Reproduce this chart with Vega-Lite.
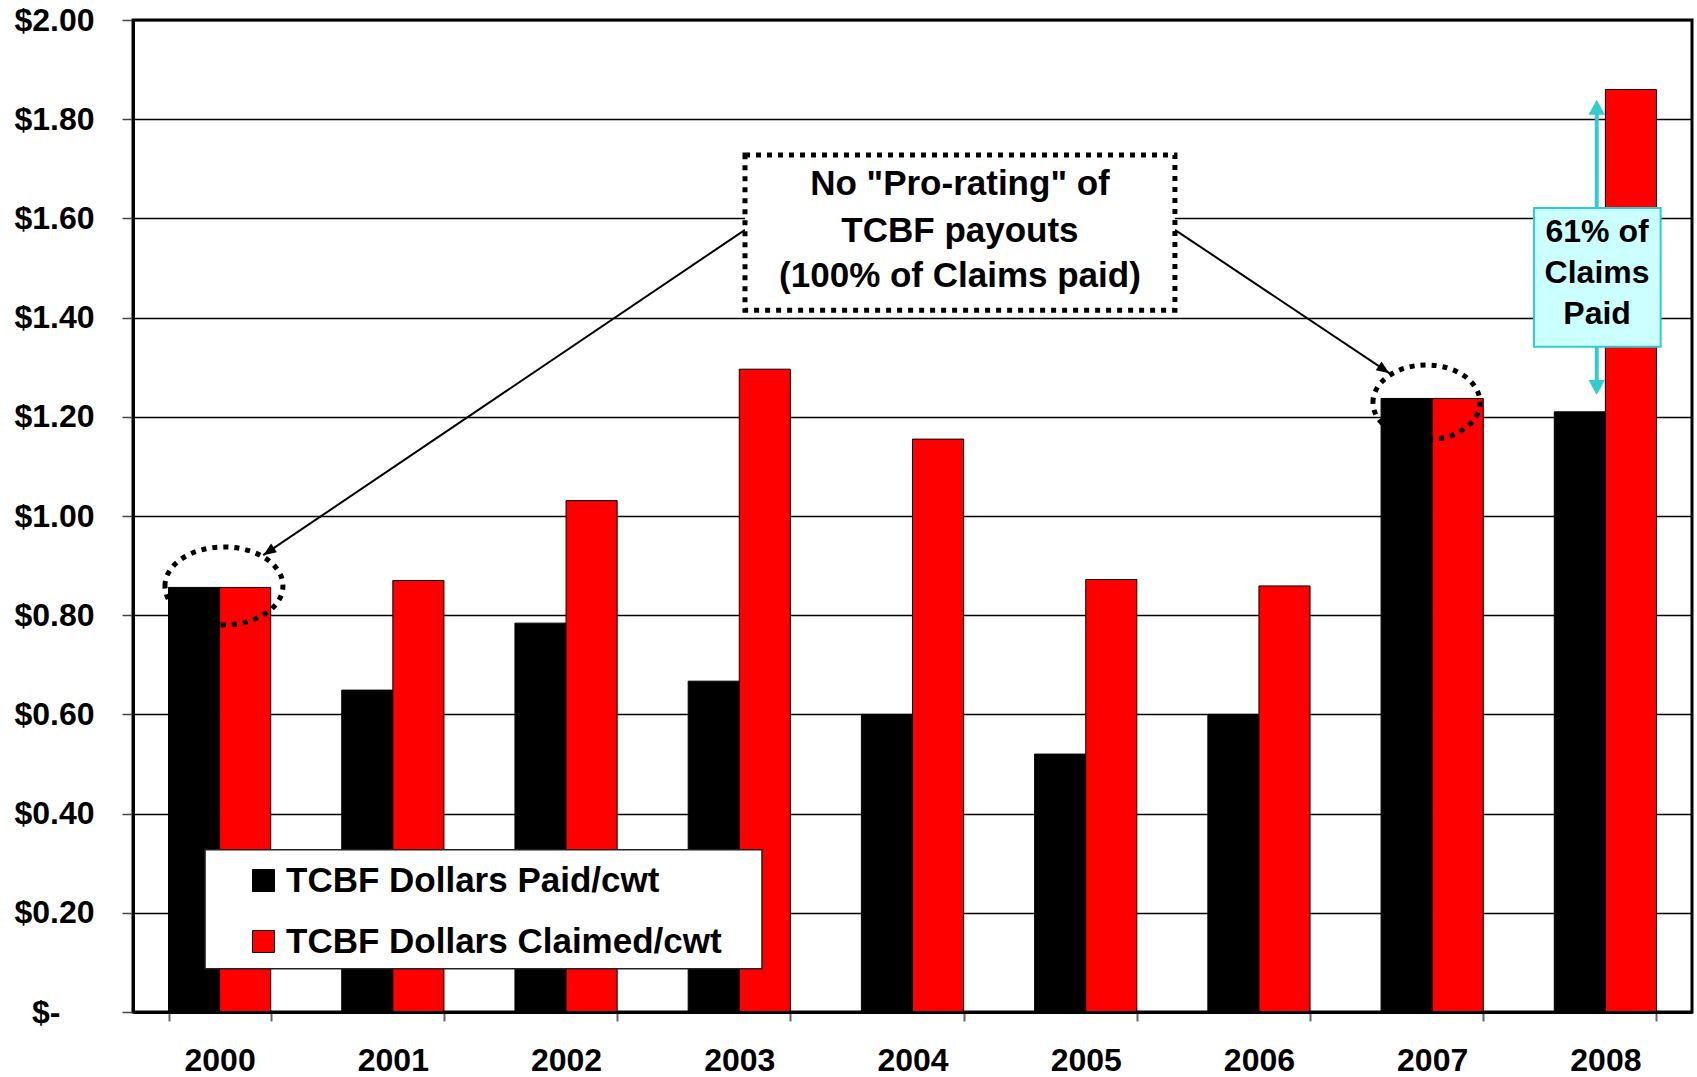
{
  "$schema": "https://vega.github.io/schema/vega-lite/v6.json",
  "width": 1559,
  "height": 992,
  "autosize": {"type": "none"},
  "padding": {"left": 133, "top": 20, "right": 5, "bottom": 65},
  "background": "white",
  "config": {"view": {"stroke": "black", "strokeWidth": 3}, "font": "Liberation Sans"},
  "resolve": {"scale": {"x": "independent"}, "axis": {"y": "independent"}},
  "layer": [
    {
      "data": {"values": [
        {"year": "2000", "series": "TCBF Dollars Paid/cwt", "value": 0.856},
        {"year": "2000", "series": "TCBF Dollars Claimed/cwt", "value": 0.856},
        {"year": "2001", "series": "TCBF Dollars Paid/cwt", "value": 0.649},
        {"year": "2001", "series": "TCBF Dollars Claimed/cwt", "value": 0.870},
        {"year": "2002", "series": "TCBF Dollars Paid/cwt", "value": 0.784},
        {"year": "2002", "series": "TCBF Dollars Claimed/cwt", "value": 1.031},
        {"year": "2003", "series": "TCBF Dollars Paid/cwt", "value": 0.667},
        {"year": "2003", "series": "TCBF Dollars Claimed/cwt", "value": 1.296},
        {"year": "2004", "series": "TCBF Dollars Paid/cwt", "value": 0.600},
        {"year": "2004", "series": "TCBF Dollars Claimed/cwt", "value": 1.155},
        {"year": "2005", "series": "TCBF Dollars Paid/cwt", "value": 0.520},
        {"year": "2005", "series": "TCBF Dollars Claimed/cwt", "value": 0.872},
        {"year": "2006", "series": "TCBF Dollars Paid/cwt", "value": 0.600},
        {"year": "2006", "series": "TCBF Dollars Claimed/cwt", "value": 0.859},
        {"year": "2007", "series": "TCBF Dollars Paid/cwt", "value": 1.237},
        {"year": "2007", "series": "TCBF Dollars Claimed/cwt", "value": 1.237},
        {"year": "2008", "series": "TCBF Dollars Paid/cwt", "value": 1.210},
        {"year": "2008", "series": "TCBF Dollars Claimed/cwt", "value": 1.860}
      ]},
      "mark": {"type": "bar", "stroke": "black", "strokeWidth": 1},
      "encoding": {
        "x": {
          "field": "year", "type": "nominal",
          "scale": {"paddingInner": 0.41, "paddingOuter": 0.205},
          "axis": {"title": null, "labelAngle": 0, "labelFontSize": 32, "labelFontWeight": "bold", "labelColor": "black", "labelPadding": 24, "tickBand": "extent", "tickSize": 9, "tickWidth": 2, "tickColor": "#666666", "domainColor": "black", "domainWidth": 3, "grid": false, "zindex": 1}
        },
        "xOffset": {
          "field": "series", "type": "nominal",
          "sort": ["TCBF Dollars Paid/cwt", "TCBF Dollars Claimed/cwt"],
          "scale": {"paddingInner": 0, "paddingOuter": 0}
        },
        "y": {
          "field": "value", "type": "quantitative",
          "scale": {"domain": [0, 2], "nice": false},
          "axis": {"title": null, "values": [0, 0.2, 0.4, 0.6, 0.8, 1, 1.2, 1.4, 1.6, 1.8, 2], "labelExpr": "datum.value == 0 ? '$-' : '$' + format(datum.value, '.2f')", "labelFontSize": 32, "labelFontWeight": "bold", "labelColor": "black",
            "labelPadding": {"condition": {"test": "datum.value == 0", "value": 62}, "value": 28},
            "tickSize": 11, "tickWidth": 1.5, "tickColor": "#444444", "grid": true, "gridColor": "black", "gridWidth": 1.3, "gridOpacity": 1, "domainColor": "black", "domainWidth": 3}
        },
        "color": {
          "field": "series", "type": "nominal",
          "scale": {"domain": ["TCBF Dollars Paid/cwt", "TCBF Dollars Claimed/cwt"], "range": ["#000000", "#ff0000"]},
          "legend": {"title": null, "orient": "none", "legendX": 113, "legendY": 843, "direction": "vertical", "symbolType": "square", "symbolSize": 484, "symbolStrokeColor": "black", "symbolStrokeWidth": 1, "symbolOpacity": 1, "labelFontSize": 35, "labelFont": "Liberation Sans", "labelFontWeight": "bold", "labelColor": "black", "labelOffset": 5, "rowPadding": 25, "padding": 0, "labelLimit": 700}
        }
      }
    },
    {
      "data": {"values": [{"x": 0.416, "x2": 3.631, "y": 0.327, "y2": 0.087}]},
      "mark": {"type": "rect", "fill": "white", "stroke": "#222222", "strokeWidth": 1.5},
      "encoding": {
        "x": {"field": "x", "type": "quantitative", "scale": {"domain": [0, 9], "nice": false, "zero": false}, "axis": null},
        "x2": {"field": "x2"},
        "y": {"field": "y", "type": "quantitative", "scale": {"domain": [0, 2], "nice": false}, "axis": null},
        "y2": {"field": "y2"}
      }
    },
    {
      "data": {"values": [
        {"x": 3.533, "y": 1.577, "x2": 0.752, "y2": 0.921},
        {"x": 6.015, "y": 1.577, "x2": 7.253, "y2": 1.288}
      ]},
      "mark": {"type": "rule", "color": "black", "strokeWidth": 2},
      "encoding": {
        "x": {"field": "x", "type": "quantitative", "scale": {"domain": [0, 9], "nice": false, "zero": false}, "axis": null},
        "x2": {"field": "x2"},
        "y": {"field": "y", "type": "quantitative", "scale": {"domain": [0, 2], "nice": false}, "axis": null},
        "y2": {"field": "y2"}
      }
    },
    {
      "data": {"values": [{"x": 3.533, "x2": 6.015, "y": 1.728, "y2": 1.415}]},
      "mark": {"type": "rect", "fill": "white", "stroke": "black", "strokeWidth": 5, "strokeDash": [5, 6]},
      "encoding": {
        "x": {"field": "x", "type": "quantitative", "scale": {"domain": [0, 9], "nice": false, "zero": false}, "axis": null},
        "x2": {"field": "x2"},
        "y": {"field": "y", "type": "quantitative", "scale": {"domain": [0, 2], "nice": false}, "axis": null},
        "y2": {"field": "y2"}
      }
    },
    {
      "data": {"values": [
        {"x": 4.774, "y": 1.647, "t": "No \"Pro-rating\" of"},
        {"x": 4.774, "y": 1.553, "t": "TCBF payouts"},
        {"x": 4.774, "y": 1.462, "t": "(100% of Claims paid)"}
      ]},
      "mark": {"type": "text", "align": "center", "baseline": "alphabetic", "fontSize": 35, "fontWeight": "bold", "font": "Liberation Sans", "color": "black"},
      "encoding": {
        "x": {"field": "x", "type": "quantitative", "scale": {"domain": [0, 9], "nice": false, "zero": false}, "axis": null},
        "y": {"field": "y", "type": "quantitative", "scale": {"domain": [0, 2], "nice": false}, "axis": null},
        "text": {"field": "t"}
      }
    },
    {
      "data": {"values": [{"x": 0.525, "y": 0.859}]},
      "mark": {"type": "point", "shape": "M-1,0A1,0.66 0 1,1 1,0A1,0.66 0 1,1 -1,0Z", "size": 13924, "filled": false, "stroke": "black", "strokeWidth": 5, "strokeDash": [5, 6], "opacity": 1},
      "encoding": {
        "x": {"field": "x", "type": "quantitative", "scale": {"domain": [0, 9], "nice": false, "zero": false}, "axis": null},
        "y": {"field": "y", "type": "quantitative", "scale": {"domain": [0, 2], "nice": false}, "axis": null}
      }
    },
    {
      "data": {"values": [{"x": 7.467, "y": 1.229}]},
      "mark": {"type": "point", "shape": "M-1,0A1,0.7 0 1,1 1,0A1,0.7 0 1,1 -1,0Z", "size": 11449, "filled": false, "stroke": "black", "strokeWidth": 5, "strokeDash": [5, 6], "opacity": 1},
      "encoding": {
        "x": {"field": "x", "type": "quantitative", "scale": {"domain": [0, 9], "nice": false, "zero": false}, "axis": null},
        "y": {"field": "y", "type": "quantitative", "scale": {"domain": [0, 2], "nice": false}, "axis": null}
      }
    },
    {
      "data": {"values": [{"x": 0.752, "y": 0.921}]},
      "mark": {"type": "point", "shape": "M0,0L-0.4,1L0.4,1Z", "size": 676, "filled": true, "color": "black", "opacity": 1, "angle": 236},
      "encoding": {
        "x": {"field": "x", "type": "quantitative", "scale": {"domain": [0, 9], "nice": false, "zero": false}, "axis": null},
        "y": {"field": "y", "type": "quantitative", "scale": {"domain": [0, 2], "nice": false}, "axis": null}
      }
    },
    {
      "data": {"values": [{"x": 7.253, "y": 1.288}]},
      "mark": {"type": "point", "shape": "M0,0L-0.4,1L0.4,1Z", "size": 676, "filled": true, "color": "black", "opacity": 1, "angle": 124},
      "encoding": {
        "x": {"field": "x", "type": "quantitative", "scale": {"domain": [0, 9], "nice": false, "zero": false}, "axis": null},
        "y": {"field": "y", "type": "quantitative", "scale": {"domain": [0, 2], "nice": false}, "axis": null}
      }
    },
    {
      "data": {"values": [{"x": 8.45, "y": 1.82, "y2": 1.26}]},
      "mark": {"type": "rule", "color": "#33cccc", "strokeWidth": 4},
      "encoding": {
        "x": {"field": "x", "type": "quantitative", "scale": {"domain": [0, 9], "nice": false, "zero": false}, "axis": null},
        "y": {"field": "y", "type": "quantitative", "scale": {"domain": [0, 2], "nice": false}, "axis": null},
        "y2": {"field": "y2"}
      }
    },
    {
      "data": {"values": [{"x": 8.45, "y": 1.839}]},
      "mark": {"type": "point", "shape": "M0,0L-0.55,1L0.55,1Z", "size": 900, "filled": true, "color": "#33cccc", "opacity": 1, "angle": 0},
      "encoding": {
        "x": {"field": "x", "type": "quantitative", "scale": {"domain": [0, 9], "nice": false, "zero": false}, "axis": null},
        "y": {"field": "y", "type": "quantitative", "scale": {"domain": [0, 2], "nice": false}, "axis": null}
      }
    },
    {
      "data": {"values": [{"x": 8.45, "y": 1.244}]},
      "mark": {"type": "point", "shape": "M0,0L-0.55,1L0.55,1Z", "size": 900, "filled": true, "color": "#33cccc", "opacity": 1, "angle": 180},
      "encoding": {
        "x": {"field": "x", "type": "quantitative", "scale": {"domain": [0, 9], "nice": false, "zero": false}, "axis": null},
        "y": {"field": "y", "type": "quantitative", "scale": {"domain": [0, 2], "nice": false}, "axis": null}
      }
    },
    {
      "data": {"values": [{"x": 8.088, "x2": 8.819, "y": 1.621, "y2": 1.341}]},
      "mark": {"type": "rect", "fill": "#ccffff", "stroke": "#33cccc", "strokeWidth": 2},
      "encoding": {
        "x": {"field": "x", "type": "quantitative", "scale": {"domain": [0, 9], "nice": false, "zero": false}, "axis": null},
        "x2": {"field": "x2"},
        "y": {"field": "y", "type": "quantitative", "scale": {"domain": [0, 2], "nice": false}, "axis": null},
        "y2": {"field": "y2"}
      }
    },
    {
      "data": {"values": [
        {"x": 8.452, "y": 1.553, "t": "61% of"},
        {"x": 8.452, "y": 1.469, "t": "Claims"},
        {"x": 8.452, "y": 1.387, "t": "Paid"}
      ]},
      "mark": {"type": "text", "align": "center", "baseline": "alphabetic", "fontSize": 32, "fontWeight": "bold", "font": "Liberation Sans", "color": "black"},
      "encoding": {
        "x": {"field": "x", "type": "quantitative", "scale": {"domain": [0, 9], "nice": false, "zero": false}, "axis": null},
        "y": {"field": "y", "type": "quantitative", "scale": {"domain": [0, 2], "nice": false}, "axis": null},
        "text": {"field": "t"}
      }
    }
  ]
}
